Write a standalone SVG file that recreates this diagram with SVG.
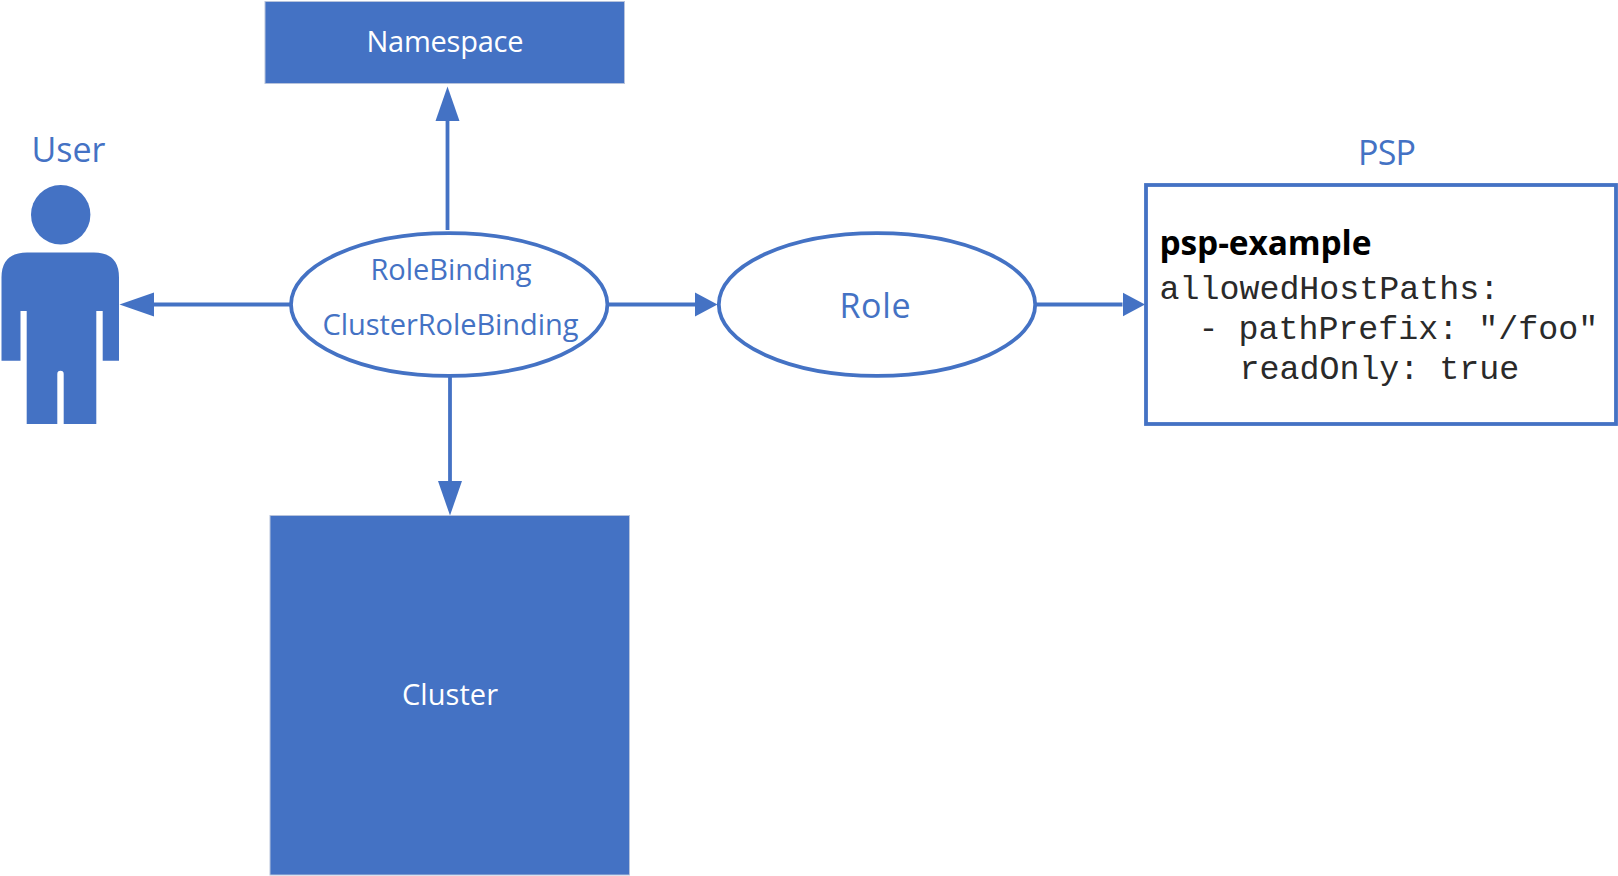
<svg xmlns="http://www.w3.org/2000/svg" width="1618" height="876" viewBox="0 0 1618 876">
<style>
text{font-family:"Open Sans","Noto Sans","Liberation Sans",sans-serif}
.blue{fill:#4472C4}
.solid{fill:#4472C4;stroke:#B7C3DC;stroke-width:1}
.outline{fill:#fff;stroke:#4472C4;stroke-width:3.8}
.label{fill:#4472C4;font-size:34px}
.small{fill:#4472C4;font-size:29px}
.white{fill:#fff;font-size:29px}
.mono{font-family:"Liberation Mono",monospace;font-size:33.3px;fill:#2a2a2a}
.conn{stroke:#4472C4;stroke-width:3.8;fill:none}
</style>
<defs>
<marker id="long" markerUnits="userSpaceOnUse" markerWidth="36" markerHeight="26" refX="0" refY="13" orient="auto"><path d="M0 1L34.5 13L0 25Z" fill="#4472C4"/></marker>
<marker id="short" markerUnits="userSpaceOnUse" markerWidth="24" markerHeight="26" refX="0" refY="13" orient="auto"><path d="M0 1L22.5 13L0 25Z" fill="#4472C4"/></marker>
</defs>
<g id="connectors">
<line class="conn" x1="447.5" y1="230" x2="447.5" y2="121" marker-end="url(#long)"/>
<line class="conn" x1="450" y1="372" x2="450" y2="481" marker-end="url(#long)"/>
<line class="conn" x1="290" y1="304.5" x2="154" y2="304.5" marker-end="url(#long)"/>
<line class="conn" x1="608" y1="304.5" x2="695" y2="304.5" marker-end="url(#short)"/>
<line class="conn" x1="1036" y1="304.5" x2="1122.5" y2="304.5" marker-end="url(#short)"/>
</g>
<g id="user">
<circle class="blue" cx="60.7" cy="214.7" r="29.7"/>
<path class="blue" d="M27 252.5H94Q119 252.5 119 277.5V360.7H102.7V311H96.3V424H63.7V374a3.2 3.2 0 0 0-6.4 0V424H26.7V311H20.5V360.7H1.5V277.5Q1.5 252.5 27 252.5Z"/>
<text class="label" x="31.5" y="161.5" textLength="74">User</text>
</g>
<g id="namespace">
<rect class="solid" x="265" y="1.5" width="359.5" height="82"/>
<text class="white" x="366.5" y="51.5" textLength="157">Namespace</text>
</g>
<g id="rolebinding">
<ellipse class="outline" cx="449.2" cy="304.5" rx="158.2" ry="71.3"/>
<text class="small" x="370.5" y="279.5" textLength="161">RoleBinding</text>
<text class="small" x="322.5" y="334.5" textLength="256">ClusterRoleBinding</text>
</g>
<g id="cluster">
<rect class="solid" x="270" y="515.5" width="359.5" height="359.5"/>
<text class="white" x="402" y="705" textLength="96">Cluster</text>
</g>
<g id="role">
<ellipse class="outline" cx="877" cy="304.5" rx="158.2" ry="71.3"/>
<text class="label" x="839.5" y="317.5" textLength="71">Role</text>
</g>
<g id="psp">
<text class="label" x="1358" y="164.5" textLength="58">PSP</text>
<rect class="outline" x="1146" y="185" width="470" height="239"/>
<text x="1159.5" y="254.5" font-size="33.5" font-weight="700" fill="#000" textLength="212">psp-example</text>
<text class="mono" x="1159.5" y="298.5">allowedHostPaths:</text>
<text class="mono" x="1198.5" y="338.5">- pathPrefix: "/foo"</text>
<text class="mono" x="1239.5" y="378.5">readOnly: true</text>
</g>
</svg>
